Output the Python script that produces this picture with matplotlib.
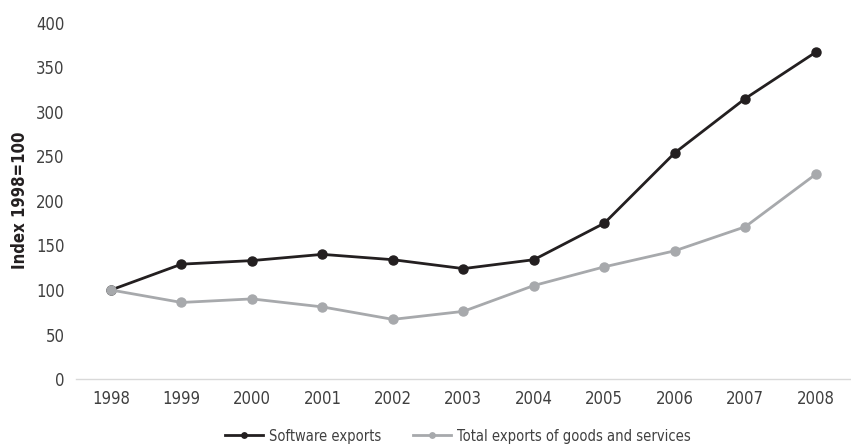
import matplotlib
matplotlib.use("Agg")
import matplotlib.pyplot as plt

years = ["1998", "1999", "2000", "2001", "2002", "2003", "2004", "2005", "2006", "2007", "2008"]
software = [100, 129, 133, 140, 134, 124, 134, 175, 254, 315, 367]
total = [100, 86, 90, 81, 67, 76, 105, 126, 144, 171, 230]
yticks = [0, 50, 100, 150, 200, 250, 300, 350, 400]

plt.rcParams['font.family'] = ['DejaVu Sans']
plt.rcParams['font.stretch'] = 'condensed'

fig = plt.figure(figsize=(8.51, 4.47), dpi=100)
ax = fig.add_axes([0.089, 0.152, 0.911, 0.797])

x = list(range(len(years)))
ax.plot(x, software, color="#231f20", lw=2, marker="o", ms=6.5, label="Software exports", zorder=2)
ax.plot(x, total, color="#a7a9ac", lw=2, marker="o", ms=6.5, label="Total exports of goods and services", zorder=3)

ax.set_ylim(0, 400)
ax.set_xlim(-0.5, 10.5)
ax.set_yticks(yticks)
ax.set_xticks(x)
ax.set_xticklabels(years)
for s in ["top", "right", "left"]:
    ax.spines[s].set_visible(False)
ax.spines["bottom"].set_color("#d9d9d9")
ax.spines["bottom"].set_linewidth(1)
ax.tick_params(axis="both", length=0, labelsize=12, labelcolor="#404040")
ax.tick_params(axis="x", pad=8)
ax.tick_params(axis="y", pad=8)
fig.text(20/851, 1-200/447, "Index 1998=100", rotation=90, fontsize=12, fontweight="bold",
         color="#231f20", ha="center", va="center")

fig.legend(*ax.get_legend_handles_labels(), loc="center", bbox_to_anchor=(458/851, 1-436/447), ncol=2,
           frameon=False, fontsize=10.5, handlelength=2.6, columnspacing=2.2, markerscale=0.6,
           labelcolor="#404040", handletextpad=0.4)

fig.savefig("out.png", dpi=100)
